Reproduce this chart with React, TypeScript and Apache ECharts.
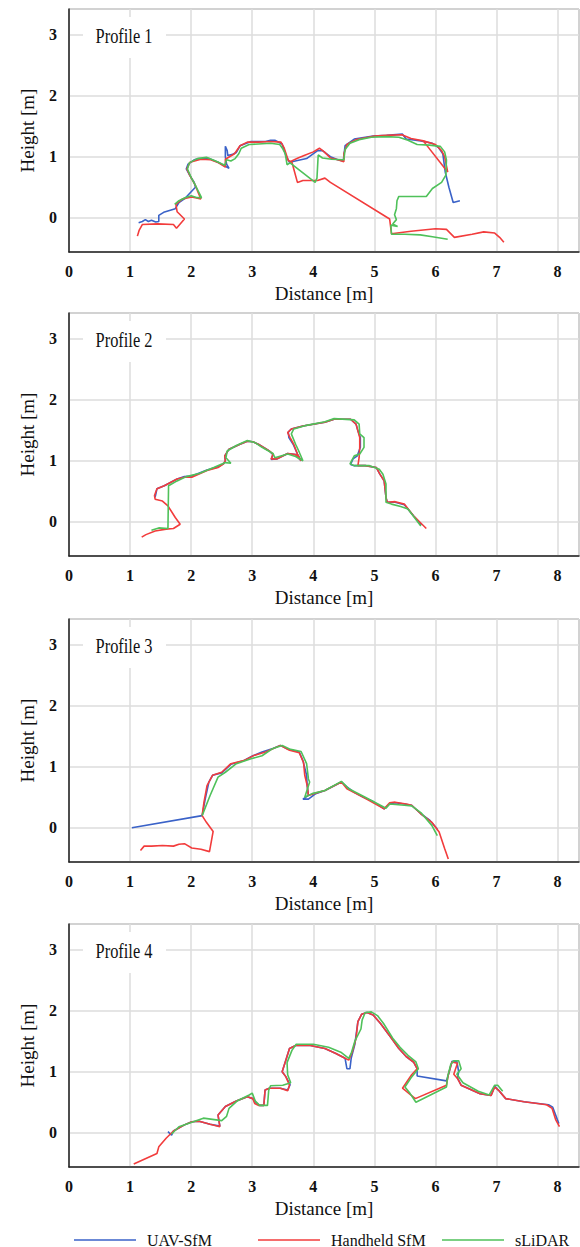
import React, { useEffect, useRef } from "react";
import * as echarts from "echarts";

type Pt = [number, number];
type Seg = Pt[];

// ---------- data ----------
const methodNames = ["UAV-SfM", "Handheld SfM", "sLiDAR"];
const profileNames = ["Profile 1", "Profile 2", "Profile 3", "Profile 4"];
const xTicks = [0, 1, 2, 3, 4, 5, 6, 7, 8];
const yTicks = [0, 1, 2, 3];

// Profile 1
const p1Uav: Seg[] = [[
  [1.14, -0.08], [1.2, -0.06], [1.25, -0.03], [1.3, -0.06], [1.35, -0.04], [1.42, -0.07], [1.47, -0.06],
  [1.47, 0.04], [1.55, 0.09], [1.74, 0.15], [1.8, 0.25], [1.9, 0.32], [2.07, 0.5], [2.05, 0.58], [1.98, 0.69],
  [1.92, 0.8], [1.95, 0.88], [2.05, 0.95], [2.13, 0.97], [2.29, 0.97], [2.44, 0.91], [2.62, 0.81], [2.58, 0.88],
  [2.56, 1.0], [2.56, 1.17], [2.59, 1.1], [2.6, 1.02], [2.68, 1.04], [2.74, 1.07], [2.8, 1.18], [2.98, 1.25],
  [3.22, 1.25], [3.3, 1.27], [3.37, 1.27], [3.49, 1.21], [3.55, 1.02], [3.61, 0.91], [3.89, 0.97], [4.07, 1.1],
  [4.15, 1.1], [4.28, 1.0], [4.4, 0.95], [4.49, 0.93], [4.52, 1.18], [4.67, 1.29], [4.98, 1.34], [5.2, 1.35],
  [5.46, 1.37], [5.52, 1.29], [5.76, 1.26], [5.95, 1.22], [6.05, 1.15], [6.12, 1.05], [6.16, 0.75], [6.22, 0.5],
  [6.29, 0.25], [6.4, 0.28],
]];
const p1Hand: Seg[] = [
  [
    [1.12, -0.3], [1.15, -0.2], [1.2, -0.11], [1.45, -0.1], [1.71, -0.11], [1.76, -0.17], [1.82, -0.1],
    [1.89, -0.02], [1.8, 0.07], [1.77, 0.1], [1.75, 0.22], [1.86, 0.31], [2.01, 0.34], [2.16, 0.31],
    [2.1, 0.45], [2.07, 0.53], [1.98, 0.69], [1.93, 0.8], [1.98, 0.91], [2.16, 0.96], [2.32, 0.95],
    [2.45, 0.9], [2.56, 0.83], [2.56, 0.96], [2.71, 1.05], [2.8, 1.18], [2.92, 1.24], [3.1, 1.24],
    [3.3, 1.25], [3.47, 1.24], [3.52, 1.15], [3.59, 0.94], [3.65, 0.91], [3.74, 0.58], [3.83, 0.61],
    [4.07, 0.61], [4.19, 0.65], [4.28, 0.58], [5.25, -0.02], [5.28, -0.26], [5.6, -0.22], [6.0, -0.18],
    [6.18, -0.19], [6.31, -0.32], [6.6, -0.27], [6.79, -0.23], [6.97, -0.25], [7.05, -0.32], [7.12, -0.4],
  ],
  [
    [3.62, 0.92], [3.75, 0.98], [3.85, 1.02], [4.0, 1.08], [4.1, 1.14], [4.18, 1.08], [4.28, 0.98],
    [4.4, 0.95], [4.5, 0.92], [4.5, 1.05], [4.55, 1.2], [4.7, 1.28], [4.9, 1.32], [5.0, 1.34], [5.2, 1.35],
    [5.45, 1.36], [5.6, 1.3], [5.8, 1.26], [6.0, 1.2], [6.1, 1.1], [6.15, 1.0], [6.18, 0.85], [6.2, 0.75],
  ],
  [[5.8, 1.26], [6.2, 0.75]],
];
const p1Lidar: Seg[] = [[
  [1.73, 0.22], [1.8, 0.28], [1.9, 0.33], [2.0, 0.36], [2.1, 0.33], [2.17, 0.33], [2.12, 0.43], [2.07, 0.53],
  [2.0, 0.66], [1.94, 0.8], [1.97, 0.9], [2.1, 0.97], [2.25, 0.99], [2.4, 0.93], [2.55, 0.86], [2.58, 0.95],
  [2.65, 0.93], [2.72, 0.97], [2.78, 1.05], [2.82, 1.14], [2.95, 1.2], [3.1, 1.21], [3.3, 1.22], [3.45, 1.2],
  [3.5, 1.13], [3.54, 1.05], [3.57, 0.87], [3.62, 0.9], [4.03, 0.58], [4.06, 0.65], [4.08, 1.03], [4.15, 0.98],
  [4.3, 0.96], [4.5, 0.95], [4.52, 1.12], [4.6, 1.22], [4.75, 1.28], [4.95, 1.32], [5.2, 1.33], [5.4, 1.32],
  [5.55, 1.27], [5.7, 1.2], [5.9, 1.19], [6.08, 1.17], [6.15, 1.08], [6.18, 0.95], [6.17, 0.7], [6.1, 0.58],
  [5.95, 0.48], [5.85, 0.35], [5.4, 0.35], [5.37, 0.28], [5.36, 0.15], [5.33, 0.05], [5.36, -0.03],
  [5.3, -0.1], [5.38, -0.14], [5.27, -0.12], [5.28, -0.27], [5.5, -0.27], [5.75, -0.28], [5.95, -0.31],
  [6.2, -0.35],
]];

// Profile 2
const p2Uav: Seg[] = [[
  [1.41, 0.4], [1.44, 0.54], [1.56, 0.59], [1.77, 0.7], [1.89, 0.74], [2.01, 0.75], [2.26, 0.85], [2.44, 0.9],
  [2.53, 0.95], [2.56, 1.0], [2.55, 1.08], [2.62, 1.19], [2.8, 1.27], [2.92, 1.32], [3.01, 1.31], [3.1, 1.27],
  [3.28, 1.16], [3.34, 1.1], [3.31, 1.02], [3.4, 1.03], [3.58, 1.12], [3.71, 1.1], [3.8, 1.0], [3.74, 1.11],
  [3.67, 1.27], [3.6, 1.38], [3.59, 1.47], [3.64, 1.52], [3.83, 1.57], [4.19, 1.63], [4.34, 1.68], [4.61, 1.68],
  [4.7, 1.6], [4.73, 1.49], [4.77, 1.38], [4.77, 1.22], [4.72, 1.08], [4.65, 1.03], [4.61, 0.94], [4.67, 0.92],
  [4.85, 0.92], [5.03, 0.89], [5.09, 0.78], [5.16, 0.67], [5.19, 0.4], [5.21, 0.32], [5.34, 0.32],
  [5.49, 0.28], [5.64, 0.1], [5.77, -0.05],
]];
const p2Hand: Seg[] = [[
  [1.19, -0.25], [1.26, -0.21], [1.41, -0.15], [1.59, -0.12], [1.71, -0.11], [1.82, -0.04], [1.74, 0.07],
  [1.62, 0.26], [1.53, 0.34], [1.41, 0.37], [1.4, 0.43], [1.44, 0.54], [1.56, 0.59], [1.77, 0.7], [1.89, 0.73],
  [2.01, 0.73], [2.26, 0.84], [2.44, 0.89], [2.53, 0.95], [2.56, 1.0], [2.55, 1.08], [2.62, 1.19], [2.8, 1.27],
  [2.92, 1.32], [3.01, 1.31], [3.1, 1.27], [3.28, 1.16], [3.34, 1.11], [3.31, 1.03], [3.4, 1.03], [3.58, 1.12],
  [3.71, 1.1], [3.8, 1.0], [3.74, 1.11], [3.68, 1.27], [3.62, 1.38], [3.58, 1.46], [3.64, 1.52], [3.83, 1.57],
  [4.19, 1.63], [4.34, 1.68], [4.61, 1.68], [4.7, 1.6], [4.73, 1.49], [4.76, 1.38], [4.76, 1.22], [4.75, 1.05],
  [4.73, 0.92], [4.85, 0.92], [5.03, 0.89], [5.09, 0.78], [5.16, 0.67], [5.19, 0.4], [5.21, 0.32], [5.34, 0.33],
  [5.49, 0.29], [5.64, 0.1], [5.85, -0.11],
]];
const p2Lidar: Seg[] = [[
  [1.35, -0.14], [1.47, -0.1], [1.62, -0.11], [1.63, 0.59], [1.77, 0.67], [1.92, 0.74], [2.13, 0.79],
  [2.37, 0.89], [2.56, 0.97], [2.65, 0.96], [2.57, 1.05], [2.59, 1.16], [2.74, 1.25], [2.92, 1.33], [3.04, 1.3],
  [3.16, 1.22], [3.34, 1.12], [3.37, 1.05], [3.58, 1.11], [3.71, 1.07], [3.83, 1.0], [3.77, 1.14], [3.71, 1.27],
  [3.64, 1.44], [3.68, 1.52], [3.89, 1.58], [4.19, 1.64], [4.34, 1.69], [4.67, 1.67], [4.75, 1.6], [4.76, 1.44],
  [4.83, 1.38], [4.83, 1.22], [4.76, 1.11], [4.67, 1.08], [4.6, 0.95], [4.67, 0.92], [4.92, 0.92], [5.08, 0.86],
  [5.14, 0.78], [5.19, 0.62], [5.19, 0.32], [5.28, 0.29], [5.43, 0.25], [5.55, 0.21], [5.76, -0.07],
]];

// Profile 3
const p3Uav: Seg[] = [[
  [1.03, 0.0], [2.18, 0.2], [2.23, 0.47], [2.29, 0.75], [2.35, 0.86], [2.5, 0.9], [2.65, 1.04], [2.86, 1.1],
  [3.01, 1.18], [3.16, 1.24], [3.34, 1.3], [3.46, 1.35], [3.58, 1.29], [3.77, 1.24], [3.83, 1.1], [3.89, 0.86],
  [3.9, 0.69], [3.92, 0.53], [3.83, 0.47], [3.92, 0.47], [4.04, 0.56], [4.19, 0.61], [4.46, 0.75], [4.55, 0.67],
  [4.67, 0.58], [4.82, 0.5], [4.98, 0.43], [5.16, 0.31], [5.25, 0.39], [5.34, 0.41], [5.49, 0.39], [5.61, 0.37],
  [5.76, 0.23], [5.91, 0.12], [6.03, -0.02],
]];
const p3Hand: Seg[] = [[
  [1.17, -0.37], [1.23, -0.3], [1.35, -0.3], [1.53, -0.29], [1.71, -0.3], [1.8, -0.27], [1.89, -0.26],
  [2.01, -0.33], [2.16, -0.35], [2.3, -0.39], [2.36, -0.06], [2.25, 0.09], [2.18, 0.2], [2.21, 0.42],
  [2.26, 0.69], [2.35, 0.86], [2.5, 0.91], [2.65, 1.05], [2.86, 1.1], [3.04, 1.19], [3.22, 1.24], [3.46, 1.35],
  [3.61, 1.27], [3.77, 1.23], [3.84, 1.07], [3.86, 0.86], [3.9, 0.69], [3.92, 0.53], [4.01, 0.56], [4.19, 0.61],
  [4.46, 0.75], [4.55, 0.64], [4.82, 0.5], [5.16, 0.31], [5.25, 0.41], [5.34, 0.42], [5.52, 0.39], [5.61, 0.37],
  [5.76, 0.23], [5.94, 0.09], [6.06, -0.07], [6.15, -0.34], [6.21, -0.51],
]];
const p3Lidar: Seg[] = [[
  [2.18, 0.2], [2.31, 0.53], [2.44, 0.83], [2.56, 0.91], [2.74, 1.05], [2.98, 1.13], [3.16, 1.18], [3.34, 1.3],
  [3.49, 1.35], [3.61, 1.29], [3.8, 1.25], [3.89, 1.05], [3.92, 0.8], [3.94, 0.75], [3.86, 0.5], [3.98, 0.56],
  [4.19, 0.61], [4.46, 0.76], [4.58, 0.64], [4.85, 0.5], [5.19, 0.32], [5.25, 0.39], [5.49, 0.37], [5.61, 0.36],
  [5.76, 0.25], [5.94, 0.04], [6.03, -0.13],
]];

// Profile 4
const p4Uav: Seg[] = [[
  [1.62, 0.02], [1.68, -0.04], [1.71, 0.03], [1.89, 0.13], [2.01, 0.18], [2.13, 0.19], [2.31, 0.14],
  [2.47, 0.11], [2.44, 0.29], [2.56, 0.43], [2.74, 0.52], [2.92, 0.59], [3.01, 0.56], [3.06, 0.5], [3.12, 0.45],
  [3.19, 0.45], [3.21, 0.7], [3.28, 0.73], [3.46, 0.73], [3.58, 0.7], [3.62, 0.79], [3.55, 0.92], [3.49, 1.0],
  [3.55, 1.19], [3.61, 1.38], [3.71, 1.43], [3.95, 1.43], [4.19, 1.38], [4.37, 1.3], [4.52, 1.22], [4.55, 1.05],
  [4.6, 1.05], [4.62, 1.22], [4.68, 1.45], [4.73, 1.82], [4.79, 1.94], [4.88, 1.97], [4.98, 1.93], [5.1, 1.79],
  [5.28, 1.55], [5.4, 1.38], [5.52, 1.25], [5.64, 1.16], [5.7, 1.05], [5.7, 0.93], [6.18, 0.85], [6.22, 0.98],
  [6.27, 1.17], [6.35, 1.17], [6.38, 1.0], [6.36, 0.9], [6.42, 0.78], [6.73, 0.64], [6.91, 0.61], [6.97, 0.76],
  [7.03, 0.7], [7.15, 0.56], [7.45, 0.51], [7.85, 0.46], [7.92, 0.42], [8.02, 0.15],
]];
const p4Hand: Seg[] = [[
  [1.06, -0.51], [1.44, -0.34], [1.47, -0.23], [1.59, -0.09], [1.71, 0.03], [1.89, 0.13], [2.01, 0.18],
  [2.13, 0.19], [2.31, 0.14], [2.47, 0.1], [2.44, 0.29], [2.56, 0.43], [2.74, 0.52], [2.92, 0.59], [3.01, 0.56],
  [3.04, 0.48], [3.1, 0.45], [3.19, 0.45], [3.21, 0.7], [3.28, 0.73], [3.46, 0.73], [3.58, 0.69], [3.61, 0.78],
  [3.55, 0.92], [3.49, 1.0], [3.55, 1.19], [3.61, 1.38], [3.71, 1.43], [3.95, 1.43], [4.19, 1.38], [4.37, 1.3],
  [4.52, 1.22], [4.58, 1.19], [4.64, 1.33], [4.7, 1.55], [4.73, 1.82], [4.79, 1.94], [4.88, 1.97], [4.98, 1.93],
  [5.1, 1.79], [5.28, 1.55], [5.4, 1.38], [5.52, 1.25], [5.64, 1.16], [5.7, 1.05], [5.61, 0.95], [5.46, 0.73],
  [5.67, 0.56], [6.18, 0.78], [6.21, 0.95], [6.27, 1.16], [6.36, 1.14], [6.3, 0.96], [6.36, 0.89], [6.42, 0.78],
  [6.73, 0.64], [6.91, 0.61], [6.97, 0.75], [7.03, 0.7], [7.15, 0.56], [7.45, 0.51], [7.82, 0.46], [7.91, 0.4],
  [7.97, 0.21], [8.03, 0.1],
]];
const p4Lidar: Seg[] = [[
  [1.68, -0.02], [1.8, 0.1], [2.0, 0.17], [2.2, 0.24], [2.5, 0.2], [2.58, 0.27], [2.62, 0.4], [2.75, 0.52],
  [2.95, 0.62], [3.0, 0.65], [3.05, 0.52], [3.12, 0.45], [3.25, 0.45], [3.27, 0.7], [3.3, 0.77], [3.5, 0.78],
  [3.63, 0.82], [3.58, 0.95], [3.57, 1.15], [3.65, 1.35], [3.72, 1.45], [4.0, 1.45], [4.25, 1.4], [4.45, 1.32],
  [4.58, 1.22], [4.62, 1.3], [4.68, 1.5], [4.78, 1.7], [4.8, 1.85], [4.85, 1.97], [4.95, 1.98], [5.05, 1.92],
  [5.15, 1.79], [5.3, 1.55], [5.42, 1.4], [5.55, 1.27], [5.68, 1.16], [5.72, 1.05], [5.6, 0.9], [5.5, 0.75],
  [5.58, 0.65], [5.68, 0.5], [6.18, 0.75], [6.2, 0.92], [6.25, 1.12], [6.3, 1.18], [6.38, 1.18], [6.42, 1.05],
  [6.35, 0.96], [6.45, 0.82], [6.7, 0.68], [6.88, 0.62], [6.97, 0.78], [7.02, 0.78], [7.1, 0.68],
]];

const profiles: Seg[][][] = [
  [p1Uav, p1Hand, p1Lidar],
  [p2Uav, p2Hand, p2Lidar],
  [p3Uav, p3Hand, p3Lidar],
  [p4Uav, p4Hand, p4Lidar],
];

// ---------- styling ----------
const COLORS = ["#3a62c8", "#f23c3c", "#4fc15a"];
const SERIF = "Liberation Serif, Times New Roman, serif";
const GRID_TOPS = [9, 313, 619, 924];
const GRID_LEFT = 69;
const GRID_W = 510;
const GRID_H = 243;
const X_MIN = 0;
const X_MAX = 8.35;
const Y_MIN = -0.56;
const Y_MAX = 3.42;

export default function App() {
  const ref = useRef<HTMLDivElement>(null);
  useEffect(() => {
    if (!ref.current) return;
    const chart = echarts.init(ref.current, undefined, { renderer: "svg" });

    const grids = GRID_TOPS.map((t) => ({
      left: GRID_LEFT,
      top: t,
      width: GRID_W,
      height: GRID_H,
      show: true,
      borderColor: "#666",
      borderWidth: 1,
      backgroundColor: "#fff",
    }));

    const xAxes = GRID_TOPS.map((_, i) => ({
      gridIndex: i,
      type: "value",
      min: X_MIN,
      max: X_MAX,
      interval: xTicks[1] - xTicks[0],
      name: "Distance [m]",
      nameLocation: "middle",
      nameGap: 32,
      nameTextStyle: { fontFamily: SERIF, fontSize: 19, color: "#111" },
      axisLine: { show: true, onZero: false, lineStyle: { color: "#222", width: 1.5 } },
      axisTick: { show: false },
      axisLabel: {
        showMaxLabel: false,
        fontFamily: SERIF,
        fontWeight: "bold",
        fontSize: 16,
        color: "#111",
        margin: 11,
        formatter: (v: number) => (xTicks.includes(v) ? String(v) : ""),
      },
      splitLine: { show: true, lineStyle: { color: "#dcdcdc", width: 1.5 } },
    }));

    const yAxes = GRID_TOPS.map((_, i) => ({
      gridIndex: i,
      type: "value",
      min: Y_MIN,
      max: Y_MAX,
      splitNumber: 4,
      name: "Height [m]",
      nameLocation: "middle",
      nameGap: 32,
      nameRotate: 90,
      nameTextStyle: { fontFamily: SERIF, fontSize: 19, color: "#111" },
      axisLine: { show: true, onZero: false, lineStyle: { color: "#222", width: 1.5 } },
      axisTick: { show: false },
      axisLabel: {
        showMinLabel: false,
        showMaxLabel: false,
        fontFamily: SERIF,
        fontWeight: "bold",
        fontSize: 16,
        color: "#111",
        margin: 12,
        formatter: (v: number) => (yTicks.includes(v) ? String(v) : ""),
      },
      splitLine: { show: true, lineStyle: { color: "#dcdcdc", width: 1.5 } },
    }));

    const series: any[] = [];
    profiles.forEach((prof, i) => {
      prof.forEach((segs, m) => {
        segs.forEach((seg) => {
          series.push({
            type: "line",
            name: methodNames[m],
            xAxisIndex: i,
            yAxisIndex: i,
            data: seg,
            showSymbol: false,
            symbol: "none",
            silent: true,
            z: 2 + m,
            lineStyle: { color: COLORS[m], width: 1.6 },
            itemStyle: { color: COLORS[m] },
          });
        });
      });
    });

    const legendLefts = [69, 253, 437];
    const legends = methodNames.map((n, m) => ({
      data: [n],
      left: legendLefts[m],
      top: 1227,
      icon: "rect",
      itemWidth: 62,
      itemHeight: 1.6,
      selectedMode: false,
      textStyle: { fontFamily: SERIF, fontSize: 16, color: "#111", padding: [0, 0, 0, 6] },
    }));

    const graphics: any[] = [];
    GRID_TOPS.forEach((t, i) => {
      graphics.push({
        type: "rect",
        left: 83,
        top: t + 8,
        shape: { width: 83, height: 41 },
        style: { fill: "#fff" },
        z: 100,
      });
      graphics.push({
        type: "text",
        x: 124,
        y: t + 27,
        scaleX: 0.82,
        style: {
          text: profileNames[i],
          font: `20px ${SERIF}`,
          fill: "#111",
          align: "center",
          verticalAlign: "middle",
        },
        z: 101,
      });
    });

    chart.setOption({
      animation: false,
      backgroundColor: "#fff",
      grid: grids,
      xAxis: xAxes,
      yAxis: yAxes,
      legend: legends,
      graphic: graphics,
      series,
    });
    return () => chart.dispose();
  }, []);

  return (
    <div
      ref={ref}
      style={{ position: "fixed", left: 0, top: 0, width: 580, height: 1247, background: "#fff" }}
    />
  );
}
